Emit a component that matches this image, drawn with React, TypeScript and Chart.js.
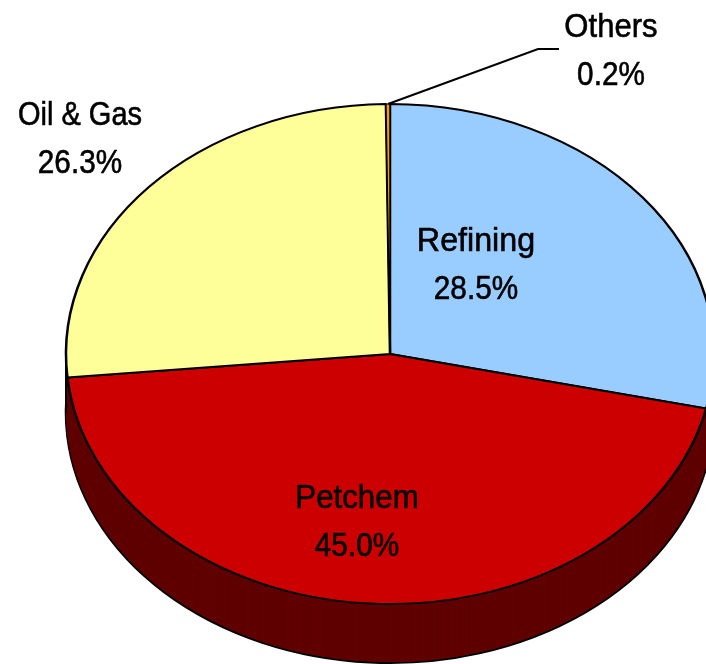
import React, { useEffect, useRef } from "react";
import { Chart, registerables } from "chart.js";

Chart.register(...registerables);

const categories = ["Refining", "Petchem", "Oil & Gas", "Others"];
const shares = [28.5, 45.0, 26.3, 0.2];
const topColors = ["#99CCFF", "#CC0000", "#FFFF99", "#FF9900"];
const sideColors = ["#600000", "#600000", "#600000", "#600000"];
const sliceBorders = [2.5, 2.5, 2.5, 1.5];

const TILT = 250 / 324;
const DEPTH = 59;
const VALUE_SQUEEZE = 0.875;
const NAME_SQUEEZE = [0.948, 0.92, 0.854, 0.914];
const FONT = '34px "Liberation Sans", Arial, sans-serif';
const labelAnchors = [
  { x: 476, y: 251 },
  { x: 357, y: 508 },
  { x: 80, y: 125 },
  { x: 611, y: 37 },
];

const place = (ctx: CanvasRenderingContext2D, cx: number, cy: number, dy: number) => {
  ctx.translate(cx, cy + dy);
  ctx.scale(1, TILT);
  ctx.translate(-cx, -cy);
};

const pie3d = {
  id: "pie3d",
  beforeDatasetsDraw(chart: any) {
    const ctx: CanvasRenderingContext2D = chart.ctx;
    const arcs = chart.getDatasetMeta(0).data;
    const { x: cx, y: cy, outerRadius: r } = arcs[0];

    const drawLayer = (dy: number, bordered: boolean) => {
      ctx.save();
      place(ctx, cx, cy, dy);
      arcs.forEach((arc: any, i: number) => {
        const saved = arc.options;
        arc.options = {
          ...saved,
          backgroundColor: sideColors[i],
          borderColor: bordered ? "#000000" : sideColors[i],
          borderWidth: bordered ? 2.5 : 0,
        };
        arc.draw(ctx);
        arc.options = saved;
      });
      ctx.restore();
    };

    drawLayer(DEPTH, true);
    for (let dy = DEPTH - 1; dy >= 1; dy--) drawLayer(dy, false);

    ctx.save();
    ctx.strokeStyle = "#000000";
    ctx.lineWidth = 2;
    ctx.beginPath();
    ctx.moveTo(cx - r, cy);
    ctx.lineTo(cx - r, cy + DEPTH);
    ctx.moveTo(cx + r, cy);
    ctx.lineTo(cx + r, cy + DEPTH);
    ctx.stroke();
    ctx.restore();

    ctx.save();
    place(ctx, cx, cy, 0);
  },
  afterDatasetsDraw(chart: any) {
    const ctx: CanvasRenderingContext2D = chart.ctx;
    ctx.restore();

    const arcs = chart.getDatasetMeta(0).data;
    const others = arcs[3];
    const mid = (others.startAngle + others.endAngle) / 2;
    const tipX = others.x + others.outerRadius * Math.cos(mid);
    const tipY = others.y + others.outerRadius * TILT * Math.sin(mid);
    ctx.save();
    ctx.strokeStyle = "#000000";
    ctx.lineWidth = 2;
    ctx.beginPath();
    ctx.moveTo(tipX, tipY);
    ctx.lineTo(538, 49);
    ctx.lineTo(559, 49);
    ctx.stroke();
    ctx.restore();

    ctx.save();
    ctx.fillStyle = "#000000";
    ctx.strokeStyle = "#000000";
    ctx.lineWidth = 0.6;
    ctx.font = FONT;
    ctx.textAlign = "center";
    ctx.textBaseline = "alphabetic";
    const put = (text: string, x: number, y: number, squeeze: number) => {
      ctx.save();
      ctx.translate(x, y);
      ctx.scale(squeeze, 1);
      ctx.fillText(text, 0, 0);
      ctx.strokeText(text, 0, 0);
      ctx.restore();
    };
    categories.forEach((name, i) => {
      const { x, y } = labelAnchors[i];
      put(name, x, y, NAME_SQUEEZE[i]);
      put(`${shares[i].toFixed(1)}%`, x, y + 48, VALUE_SQUEEZE);
    });
    ctx.restore();
  },
};

export default function App() {
  const ref = useRef<HTMLCanvasElement>(null);

  useEffect(() => {
    const chart = new Chart(ref.current!, {
      type: "pie",
      data: {
        labels: categories,
        datasets: [
          {
            data: shares,
            backgroundColor: topColors,
            borderColor: "#000000",
            borderWidth: sliceBorders,
            clip: false,
          } as any,
        ],
      },
      options: {
        responsive: false,
        animation: false,
        radius: 324,
        layout: { padding: { left: 74, top: 44, right: 0, bottom: 0 } },
        plugins: { legend: { display: false }, tooltip: { enabled: false } },
      } as any,
      plugins: [pie3d],
    });
    return () => chart.destroy();
  }, []);

  return (
    <div style={{ position: "absolute", left: 0, top: 0, width: 706, height: 664, background: "#fff" }}>
      <canvas ref={ref} width={706} height={664} style={{ display: "block" }} />
    </div>
  );
}
